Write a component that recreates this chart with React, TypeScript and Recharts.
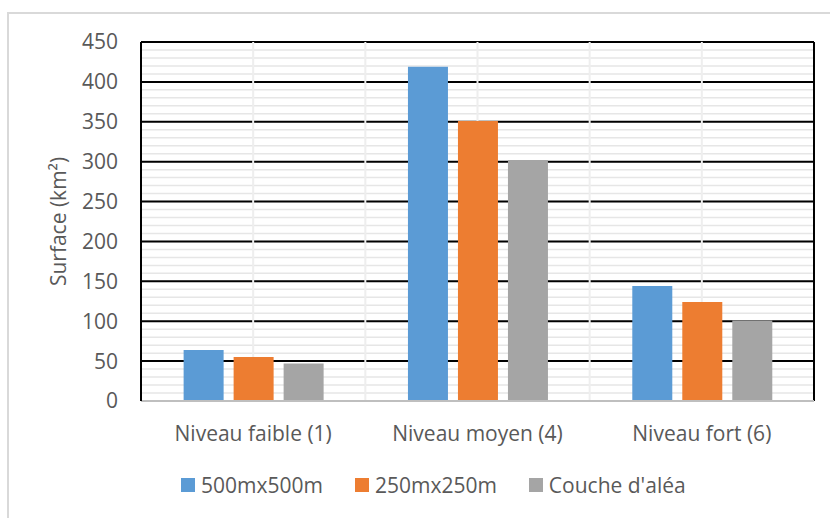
import React from 'react';
import { BarChart, Bar, XAxis, YAxis, CartesianGrid, Legend } from 'recharts';

const categories = ['Niveau faible (1)', 'Niveau moyen (4)', 'Niveau fort (6)'];
const series500 = [64, 419, 144];
const series250 = [55, 351, 124];
const seriesAlea = [47, 302, 101];
const seriesNames = ['500mx500m', '250mx250m', "Couche d'aléa"];
const seriesColors = ['#5B9BD5', '#ED7D31', '#A5A5A5'];
const yTicks = [0, 50, 100, 150, 200, 250, 300, 350, 400, 450];
const minorTicks = Array.from({ length: 46 }, (_, i) => i * 10);

const data = categories.map((c, i) => ({
  name: c,
  s500: series500[i],
  s250: series250[i],
  alea: seriesAlea[i],
}));

const FONT = '"Open Sans", sans-serif';
const TEXT = '#595959';

const yPos = (yAxis: any, offset: any, v: number) => {
  const s = yAxis && yAxis.scale;
  if (typeof s === 'function') return s(v);
  return offset.top + offset.height * (1 - v / 450);
};

const LegendContent = () => {
  return (
    <div style={{ display: 'flex', paddingLeft: 181, fontFamily: FONT, fontSize: 21, lineHeight: '28px', color: TEXT }}>
      {seriesNames.map((n, i) => (
        <div key={i} style={{ display: 'flex', alignItems: 'center', marginRight: 32 }}>
          <div style={{ width: 14, height: 14, background: seriesColors[i], marginRight: 6 }} />
          <span>{n}</span>
        </div>
      ))}
    </div>
  );
};

export default function App() {
  return (
    <div style={{ position: 'absolute', left: 0, top: 0, width: 830, height: 518, background: '#fff', overflow: 'hidden' }}>
      <div style={{ position: 'absolute', left: 7, top: 12, width: 900, height: 600, borderLeft: '2px solid #d9d9d9', borderTop: '2px solid #d9d9d9' }} />
      <div style={{ position: 'absolute', left: 0, top: 0 }}>
        <BarChart
          width={830}
          height={518}
          data={data}
          margin={{ top: 42, right: 16, bottom: 0, left: 0 }}
          barCategoryGap="19%"
          barGap={10}
        >
          <CartesianGrid
            vertical={false}
            stroke="#e6e6e6"
            strokeWidth={1.5}
            horizontalCoordinatesGenerator={({ yAxis, offset }: any) => minorTicks.map((v) => yPos(yAxis, offset, v))}
          />
          <CartesianGrid
            vertical={false}
            stroke="#000"
            strokeWidth={2}
            horizontalCoordinatesGenerator={({ yAxis, offset }: any) => yTicks.slice(1).map((v) => yPos(yAxis, offset, v))}
          />
          <CartesianGrid
            horizontal={false}
            stroke="#eeeeee"
            strokeWidth={2}
            verticalCoordinatesGenerator={({ offset }: any) => [1, 2, 3, 4, 5].map((k) => offset.left + (offset.width * k) / 6)}
          />
          <CartesianGrid
            horizontal={false}
            stroke="#000"
            strokeWidth={2}
            verticalCoordinatesGenerator={({ offset }: any) => [offset.left + offset.width]}
          />
          <XAxis
            dataKey="name"
            height={117}
            axisLine={{ stroke: '#bfbfbf', strokeWidth: 2 }}
            tickLine={false}
            tickSize={0}
            tickMargin={25}
            tick={{ fill: TEXT, fontSize: 21, fontFamily: FONT }}
            interval={0}
          />
          <YAxis
            width={141}
            domain={[0, 450]}
            ticks={yTicks}
            interval={0}
            axisLine={{ stroke: '#000', strokeWidth: 2 }}
            tickLine={false}
            tickSize={0}
            tickMargin={23}
            tick={{ fill: TEXT, fontSize: 21, fontFamily: FONT }}
            label={(props: any) => {
              const vb = props.viewBox || { y: 42, height: 359 };
              const cx = 58;
              const cy = vb.y + vb.height / 2;
              return (
                <text
                  x={cx}
                  y={cy}
                  transform={`rotate(-90, ${cx}, ${cy})`}
                  textAnchor="middle"
                  dominantBaseline="central"
                  fill={TEXT}
                  fontSize={21}
                  fontFamily={FONT}
                >
                  Surface (km²)
                </text>
              );
            }}
          />
          <Legend
            layout="vertical"
            verticalAlign="middle"
            align="center"
            content={<LegendContent />}
            wrapperStyle={{ top: 471, left: 0, width: 830 }}
          />
          <Bar dataKey="s500" name={seriesNames[0]} fill={seriesColors[0]} isAnimationActive={false} />
          <Bar dataKey="s250" name={seriesNames[1]} fill={seriesColors[1]} isAnimationActive={false} />
          <Bar dataKey="alea" name={seriesNames[2]} fill={seriesColors[2]} isAnimationActive={false} />
        </BarChart>
      </div>
    </div>
  );
}
